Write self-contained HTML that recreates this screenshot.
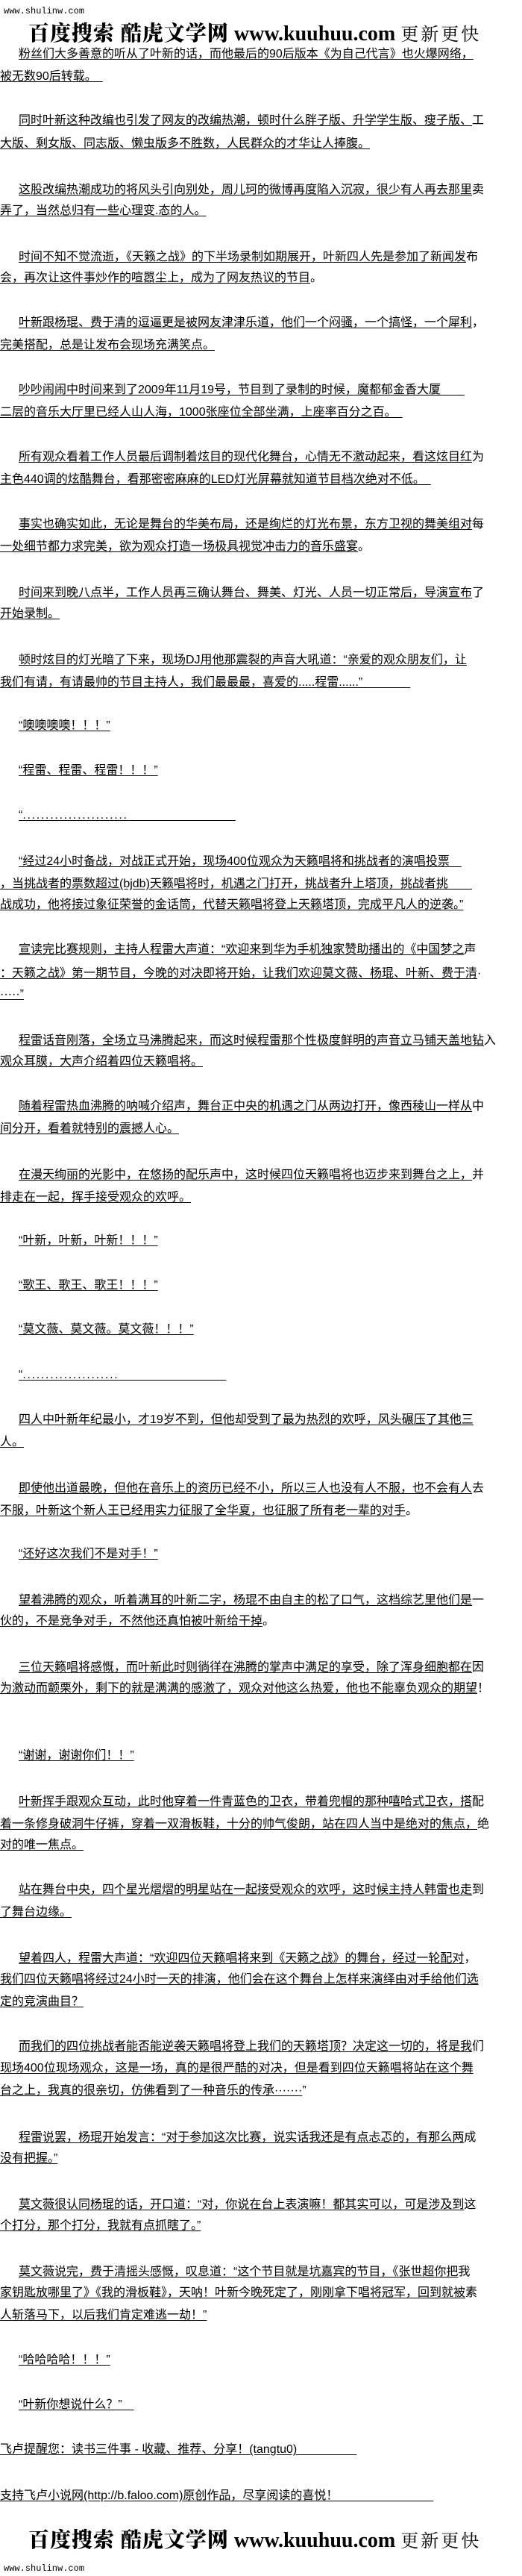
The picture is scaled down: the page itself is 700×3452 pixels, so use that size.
<!DOCTYPE html>
<html><head><meta charset="utf-8">
<style>
html,body{margin:0;padding:0;background:#fff;}
body{width:700px;height:3452px;position:relative;overflow:hidden;font-family:"Liberation Sans","Noto Sans CJK SC","WenQuanYi Zen Hei",sans-serif;font-size:16px;color:#000;}
.l{position:absolute;left:0;height:22px;line-height:22px;white-space:pre;}
.i{left:25px;}
.l u{text-decoration:underline;text-underline-offset:2px;}
.d{letter-spacing:1.7px;}
.logo{position:absolute;left:38px;white-space:pre;font-family:"Liberation Serif","Noto Serif CJK SC",serif;font-weight:bold;font-size:28px;line-height:30px;}
.logo .c{font-family:"Noto Serif CJK SC",serif;font-weight:900;letter-spacing:1px;}
.logo .s{font-family:"Noto Serif CJK SC",serif;font-weight:400;font-size:24px;letter-spacing:3px;}
.w{position:absolute;left:5px;font-family:"Liberation Mono",monospace;font-size:12px;line-height:14px;}
</style></head><body>
<div class="w" style="top:8px">www.shulinw.com</div>
<div class="logo" style="top:28px"><span class="c">百度搜索 酷虎文学网</span> www.kuuhuu.com <span class="s">更新更快</span></div>

<div class="l i" style="top:62px"><u>粉丝们大多善意的听从了叶新的话，而他最后的90后版本《为自己代言》也火爆网络，</u></div>
<div class="l" style="top:92px"><u>被无数90后转载。　</u></div>
<div class="l i" style="top:151px"><u>同时叶新这种改编也引发了网友的改编热潮，顿时什么胖子版、升学学生版、瘦子版、</u>工</div>
<div class="l" style="top:182px"><u>大版、剩女版、同志版、懒虫版多不胜数，人民群众的才华让人捧腹。</u></div>
<div class="l i" style="top:244px"><u>这股改编热潮成功的将风头引向别处，周儿珂的微博再度陷入沉寂，很少有人再去那里</u>卖</div>
<div class="l" style="top:272px"><u>弄了，当然总归有一些心理变.态的人。</u></div>
<div class="l i" style="top:334px"><u>时间不知不觉流逝，《天籁之战》的下半场录制如期展开，叶新四人先是参加了新闻发</u>布</div>
<div class="l" style="top:362px"><u>会，再次让这件事炒作的喧嚣尘上，成为了网友热议的节目</u>。</div>
<div class="l i" style="top:422px"><u>叶新跟杨琨、费于清的逗逼更是被网友津津乐道，他们一个闷骚，一个搞怪，一个犀利</u>，</div>
<div class="l" style="top:452px"><u>完美搭配，总是让发布会现场充满笑点。</u></div>
<div class="l i" style="top:512px"><u>吵吵闹闹中时间来到了2009年11月19号，节目到了录制的时候，魔都郁金香大厦　　</u></div>
<div class="l" style="top:542px"><u>二层的音乐大厅里已经人山人海，1000张座位全部坐满，上座率百分之百。　</u></div>
<div class="l i" style="top:602px"><u>所有观众看着工作人员最后调制着炫目的现代化舞台，心情无不激动起来，看这炫目红</u>为</div>
<div class="l" style="top:632px"><u>主色440调的炫酷舞台，看那密密麻麻的LED灯光屏幕就知道节目档次绝对不低。　</u></div>
<div class="l i" style="top:692px"><u>事实也确实如此，无论是舞台的华美布局，还是绚烂的灯光布景，东方卫视的舞美组对</u>每</div>
<div class="l" style="top:722px"><u>一处细节都力求完美，欲为观众打造一场极具视觉冲击力的音乐盛宴</u>。</div>
<div class="l i" style="top:784px"><u>时间来到晚八点半，工作人员再三确认舞台、舞美、灯光、人员一切正常后，导演宣布</u>了</div>
<div class="l" style="top:812px"><u>开始录制。</u></div>
<div class="l i" style="top:874px"><u>顿时炫目的灯光暗了下来，现场DJ用他那震裂的声音大吼道：“亲爱的观众朋友们，让</u></div>
<div class="l" style="top:904px"><u>我们有请，有请最帅的节目主持人，我们最最最，喜爱的.....程雷......”　　　　</u></div>
<div class="l i" style="top:962px"><u>“噢噢噢噢！！！”</u></div>
<div class="l i" style="top:1022px"><u>“程雷、程雷、程雷！！！”</u></div>
<div class="l i" style="top:1082px"><u>“<span class="d">.......................</span>　　　　　　　　　</u></div>
<div class="l i" style="top:1144px"><u>“经过24小时备战，对战正式开始，现场400位观众为天籁唱将和挑战者的演唱投票　</u></div>
<div class="l" style="top:1174px"><u>，当挑战者的票数超过(bjdb)天籁唱将时，机遇之门打开，挑战者升上塔顶，挑战者挑　　</u></div>
<div class="l" style="top:1202px"><u>战成功，他将接过象征荣誉的金话筒，代替天籁唱将登上天籁塔顶，完成平凡人的逆袭。”</u></div>
<div class="l i" style="top:1262px"><u>宣读完比赛规则，主持人程雷大声道：“欢迎来到华为手机独家赞助播出的《中国梦之</u>声</div>
<div class="l" style="top:1294px"><u>：天籁之战》第一期节目，今晚的对决即将开始，让我们欢迎莫文薇、杨琨、叶新、费于清</u>·</div>
<div class="l" style="top:1322px"><u>·····”</u></div>
<div class="l i" style="top:1384px"><u>程雷话音刚落，全场立马沸腾起来，而这时候程雷那个性极度鲜明的声音立马铺天盖地钻</u>入</div>
<div class="l" style="top:1412px"><u>观众耳膜，大声介绍着四位天籁唱将。</u></div>
<div class="l i" style="top:1472px"><u>随着程雷热血沸腾的呐喊介绍声，舞台正中央的机遇之门从两边打开，像西稜山一样从</u>中</div>
<div class="l" style="top:1502px"><u>间分开，看着就特别的震撼人心。</u></div>
<div class="l i" style="top:1564px"><u>在漫天绚丽的光影中，在悠扬的配乐声中，这时候四位天籁唱将也迈步来到舞台之上，</u>并</div>
<div class="l" style="top:1594px"><u>排走在一起，挥手接受观众的欢呼。</u></div>
<div class="l i" style="top:1652px"><u>“叶新，叶新，叶新！！！”</u></div>
<div class="l i" style="top:1712px"><u>“歌王、歌王、歌王！！！”</u></div>
<div class="l i" style="top:1771px"><u>“莫文薇、莫文薇。莫文薇！！！”</u></div>
<div class="l i" style="top:1832px"><u>“<span class="d">.....................</span>　　　　　　　　　</u></div>
<div class="l i" style="top:1892px"><u>四人中叶新年纪最小，才19岁不到，但他却受到了最为热烈的欢呼，风头碾压了其他三</u></div>
<div class="l" style="top:1922px"><u>人。</u></div>
<div class="l i" style="top:1984px"><u>即使他出道最晚，但他在音乐上的资历已经不小，所以三人也没有人不服，也不会有人</u>去</div>
<div class="l" style="top:2014px"><u>不服，叶新这个新人王已经用实力征服了全华夏，也征服了所有老一辈的对手</u>。</div>
<div class="l i" style="top:2072px"><u>“还好这次我们不是对手！”</u></div>
<div class="l i" style="top:2134px"><u>望着沸腾的观众，听着满耳的叶新二字，杨琨不由自主的松了口气，这档综艺里他们是</u>一</div>
<div class="l" style="top:2162px"><u>伙的，不是竞争对手，不然他还真怕被叶新给干掉</u>。</div>
<div class="l i" style="top:2224px"><u>三位天籁唱将感慨，而叶新此时则徜徉在沸腾的掌声中满足的享受，除了浑身细胞都在</u>因</div>
<div class="l" style="top:2252px"><u>为激动而颤栗外，剩下的就是满满的感激了，观众对他这么热爱，他也不能辜负观众的期望</u>！</div>
<div class="l i" style="top:2342px"><u>“谢谢，谢谢你们！！”</u></div>
<div class="l i" style="top:2404px"><u>叶新挥手跟观众互动，此时他穿着一件青蓝色的卫衣，带着兜帽的那种嘻哈式卫衣，搭</u>配</div>
<div class="l" style="top:2434px"><u>着一条修身破洞牛仔裤，穿着一双滑板鞋，十分的帅气俊朗，站在四人当中是绝对的焦点，</u>绝</div>
<div class="l" style="top:2462px"><u>对的唯一焦点。</u></div>
<div class="l i" style="top:2522px"><u>站在舞台中央，四个星光熠熠的明星站在一起接受观众的欢呼，这时候主持人韩雷也走</u>到</div>
<div class="l" style="top:2552px"><u>了舞台边缘。</u></div>
<div class="l i" style="top:2614px"><u>望着四人，程雷大声道：“欢迎四位天籁唱将来到《天籁之战》的舞台，经过一轮配对</u>，</div>
<div class="l" style="top:2642px"><u>我们四位天籁唱将经过24小时一天的排演，他们会在这个舞台上怎样来演绎由对手给他们选</u></div>
<div class="l" style="top:2672px"><u>定的竞演曲目？</u></div>
<div class="l i" style="top:2732px"><u>而我们的四位挑战者能否能逆袭天籁唱将登上我们的天籁塔顶？决定这一切的，将是我</u>们</div>
<div class="l" style="top:2761px"><u>现场400位现场观众，这是一场，真的是很严酷的对决，但是看到四位天籁唱将站在这个舞</u></div>
<div class="l" style="top:2791px"><u>台之上，我真的很亲切，仿佛看到了一种音乐的传承·······</u>”</div>
<div class="l i" style="top:2854px"><u>程雷说罢，杨琨开始发言：“对于参加这次比赛，说实话我还是有点忐忑的，有那么两</u>成</div>
<div class="l" style="top:2882px"><u>没有把握。”</u></div>
<div class="l i" style="top:2944px"><u>莫文薇很认同杨琨的话，开口道：“对，你说在台上表演嘛！都其实可以，可是涉及到</u>这</div>
<div class="l" style="top:2972px"><u>个打分，那个打分，我就有点抓瞎了。”</u></div>
<div class="l i" style="top:3034px"><u>莫文薇说完，费于清摇头感慨，叹息道：“这个节目就是坑嘉宾的节目，《张世超你把</u>我</div>
<div class="l" style="top:3062px"><u>家钥匙放哪里了》《我的滑板鞋》，天呐！叶新今晚死定了，刚刚拿下唱将冠军，回到就被</u>素</div>
<div class="l" style="top:3092px"><u>人斩落马下，以后我们肯定难逃一劫！”</u></div>
<div class="l i" style="top:3152px"><u>“哈哈哈哈！！！”</u></div>
<div class="l i" style="top:3212px"><u>“叶新你想说什么？”　</u></div>
<div class="l" style="top:3272px"><u>飞卢提醒您：读书三件事 - 收藏、推荐、分享！(tangtu0)　　　　　</u></div>
<div class="l" style="top:3334px"><u>支持飞卢小说网(http://b.faloo.com)原创作品，尽享阅读的喜悦！　　　　　　　　</u></div>

<div class="logo" style="top:3387px"><span class="c">百度搜索 酷虎文学网</span> www.kuuhuu.com <span class="s">更新更快</span></div>
<div class="w" style="top:3435px">www.shulinw.com</div>
</body></html>
